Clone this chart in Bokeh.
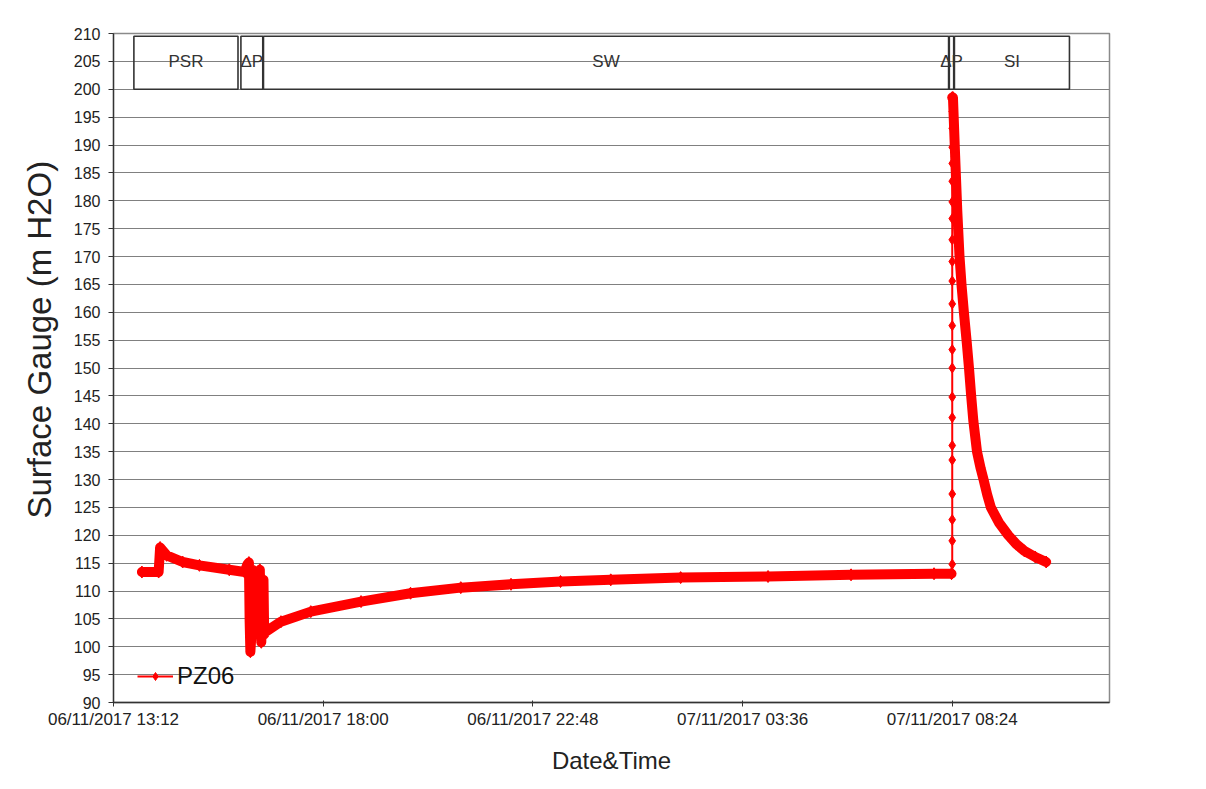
import pandas as pd
from bokeh.plotting import figure
from bokeh.models import (Range1d, FixedTicker, DatetimeTickFormatter, Legend,
                          LegendItem, ColumnDataSource, Title)
from bokeh.embed import file_html
from bokeh.resources import INLINE
from bokeh.core.properties import value

FONT = "Liberation Sans"
RED = "#ff0000"

series_name = "PZ06"

# Dense logging before the injection spike
pre_times = ["2017-11-06 13:51", "2017-11-06 14:14", "2017-11-06 14:16", "2017-11-06 14:25",
             "2017-11-06 14:47", "2017-11-06 15:10", "2017-11-06 15:51", "2017-11-06 16:12",
             "2017-11-06 16:16", "2017-11-06 16:18", "2017-11-06 16:19", "2017-11-06 16:20",
             "2017-11-06 16:21", "2017-11-06 16:22", "2017-11-06 16:23", "2017-11-06 16:24",
             "2017-11-06 16:26", "2017-11-06 16:28", "2017-11-06 16:30", "2017-11-06 16:32",
             "2017-11-06 16:33", "2017-11-06 16:34", "2017-11-06 16:35", "2017-11-06 16:36",
             "2017-11-06 16:37", "2017-11-06 16:38", "2017-11-06 16:39", "2017-11-06 16:41",
             "2017-11-06 17:02", "2017-11-06 17:43", "2017-11-06 18:52", "2017-11-06 20:00",
             "2017-11-06 21:09", "2017-11-06 22:18", "2017-11-06 23:26", "2017-11-07 00:35",
             "2017-11-07 02:11", "2017-11-07 04:11", "2017-11-07 06:05", "2017-11-07 07:59",
             "2017-11-07 08:23"]
pre_values = [113.4, 113.4, 117.8, 116.4,
              115.2, 114.6, 113.8, 113.4,
              114.8, 115.1, 104.5, 99.1,
              101.2, 104.0, 112.5, 106.5,
              113.5, 110.5, 112.8, 108.0,
              113.8, 105.0, 100.8, 110.5,
              103.5, 112.0, 102.2, 102.7,
              104.5, 106.3, 108.1, 109.6,
              110.6, 111.2, 111.7, 112.0,
              112.4, 112.6, 112.9, 113.1,
              113.1]

# Sparse readings during the pressure rise
rise_times = ["2017-11-07 08:24"] * 24
rise_values = [113.1, 114.8, 119.0, 122.8, 127.4, 133.5, 136.1, 141.1, 144.8, 150.0,
               153.3, 157.6, 161.5, 165.6, 169.1, 173.0, 176.8, 179.8, 183.5, 186.7,
               189.6, 193.0, 196.0, 198.5]

# Dense logging during fall-off
decay_times = ["2017-11-07 08:24", "2017-11-07 08:25", "2017-11-07 08:28", "2017-11-07 08:31",
               "2017-11-07 08:34", "2017-11-07 08:37", "2017-11-07 08:40", "2017-11-07 08:44",
               "2017-11-07 08:47", "2017-11-07 08:50", "2017-11-07 08:53", "2017-11-07 08:58",
               "2017-11-07 09:03", "2017-11-07 09:07", "2017-11-07 09:12", "2017-11-07 09:17",
               "2017-11-07 09:28", "2017-11-07 09:41", "2017-11-07 09:52", "2017-11-07 10:03",
               "2017-11-07 10:18", "2017-11-07 10:33"]
decay_values = [198.5, 198.5, 188.0, 178.0,
                170.0, 164.5, 160.0, 154.5,
                150.0, 145.0, 140.5, 135.0,
                132.0, 130.0, 127.3, 125.0,
                122.3, 120.0, 118.4, 117.2,
                116.1, 115.2]

# Test phases
phase_labels = ["PSR", "\u0394P", "SW", "\u0394P", "SI"]
phase_start = ["2017-11-06 13:40", "2017-11-06 16:07", "2017-11-06 16:38",
               "2017-11-07 08:20", "2017-11-07 08:27"]
phase_end = ["2017-11-06 16:03", "2017-11-06 16:37", "2017-11-07 08:19",
             "2017-11-07 08:26", "2017-11-07 11:05"]
phase_bottom = 200
phase_top = 209.5
phase_text_y = 205

x_ticks = ["2017-11-06 13:12", "2017-11-06 18:00", "2017-11-06 22:48",
           "2017-11-07 03:36", "2017-11-07 08:24"]
x_start = "2017-11-06 13:12"
x_end = "2017-11-07 12:00"
y_ticks = [90, 95, 100, 105, 110, 115, 120, 125, 130, 135, 140, 145, 150, 155,
           160, 165, 170, 175, 180, 185, 190, 195, 200, 205, 210]

x_title = "Date&Time"
y_title = "Surface Gauge (m H2O)"


def ts(lst):
    return pd.to_datetime(pd.Series(lst))


def ms(s):
    return pd.Timestamp(s).value / 1e6


W, H = 1190, 778
FL, FR, FT, FB = 113, 81, 33, 76
p = figure(width=W, height=H, output_backend="svg", toolbar_location=None,
           x_axis_type="datetime",
           x_range=Range1d(ms(x_start), ms(x_end)),
           y_range=Range1d(y_ticks[0], y_ticks[-1]),
           min_border_left=FL, min_border_right=FR,
           min_border_top=FT, min_border_bottom=FB)

p.background_fill_color = "white"
p.border_fill_color = "white"
p.outline_line_color = "#8a8a8a"
p.outline_line_width = 1.5

p.xgrid.visible = False
p.ygrid.grid_line_color = "#808080"
p.ygrid.grid_line_width = 1

# axes
p.xaxis.ticker = FixedTicker(ticks=[ms(t) for t in x_ticks])
fmt = "%d/%m/%Y %H:%M"
p.xaxis.formatter = DatetimeTickFormatter(
    microseconds=fmt, milliseconds=fmt, seconds=fmt, minsec=fmt, minutes=fmt,
    hourmin=fmt, hours=fmt, days=fmt, months=fmt, years=fmt, context=None)
p.yaxis.ticker = FixedTicker(ticks=y_ticks)
p.ygrid.ticker = FixedTicker(ticks=y_ticks)

for ax in (p.xaxis[0], p.yaxis[0]):
    ax.axis_line_color = "#333333"
    ax.axis_line_width = 1.3
    ax.major_tick_line_color = "#333333"
    ax.minor_tick_line_color = None
    ax.major_label_text_font = FONT
    ax.major_label_text_font_size = "17px"
    ax.major_label_text_color = "#222222"
    ax.axis_label_text_font = FONT
    ax.axis_label_text_font_style = "normal"
    ax.axis_label_text_color = "#222222"

p.xaxis.major_tick_out = 4
p.xaxis.major_tick_in = 2
p.xaxis.major_label_standoff = 3
p.xaxis.axis_label = x_title
p.xaxis.axis_label_text_font_size = "24px"
p.xaxis.axis_label_standoff = 15

p.yaxis.major_label_text_font_size = "16px"
p.yaxis.major_tick_out = 5
p.yaxis.major_tick_in = 0
p.yaxis.major_label_standoff = 8

# y axis title as a left-side title, so it can sit slightly above centre
p.add_layout(Title(text=y_title, align="left", offset=184, standoff=25,
                   text_font=FONT, text_font_size="33px", text_font_style="normal",
                   text_color="#222222"), "left")

# phase boxes
phase_src = ColumnDataSource(dict(
    left=ts(phase_start), right=ts(phase_end),
    bottom=[phase_bottom] * len(phase_labels), top=[phase_top] * len(phase_labels),
    label=phase_labels,
    mid=ts(phase_start) + (ts(phase_end) - ts(phase_start)) / 2,
    ty=[phase_text_y] * len(phase_labels)))
p.quad(left="left", right="right", bottom="bottom", top="top", source=phase_src,
       fill_color=None, line_color="#333333", line_width=1.6)
p.text(x="mid", y="ty", text="label", source=phase_src,
       text_font=value(FONT), text_font_size="17px", text_color="#333333",
       text_align="center", text_baseline="middle")

# series
p.line(ts(pre_times), pre_values, line_color=RED, line_width=10,
       line_join="round", line_cap="round")
p.line(ts(decay_times), decay_values, line_color=RED, line_width=10,
       line_join="round", line_cap="round")
p.scatter(ts(pre_times), pre_values, marker="diamond", size=12, color=RED)
p.scatter(ts(decay_times), decay_values, marker="diamond", size=12, color=RED)
r_line = p.line(ts(rise_times), rise_values, line_color=RED, line_width=2)
r_pts = p.scatter(ts(rise_times), rise_values, marker="diamond", size=10, color=RED)

legend = Legend(items=[LegendItem(label=series_name, renderers=[r_line, r_pts])],
                location=(24, 12), border_line_color=None,
                background_fill_alpha=0, label_text_font=FONT,
                label_text_font_size="24px", label_text_color="#111111",
                glyph_width=36, glyph_height=20, padding=0, margin=0,
                label_standoff=4)
p.add_layout(legend)

open("out.html", "w").write(file_html(p, INLINE))
